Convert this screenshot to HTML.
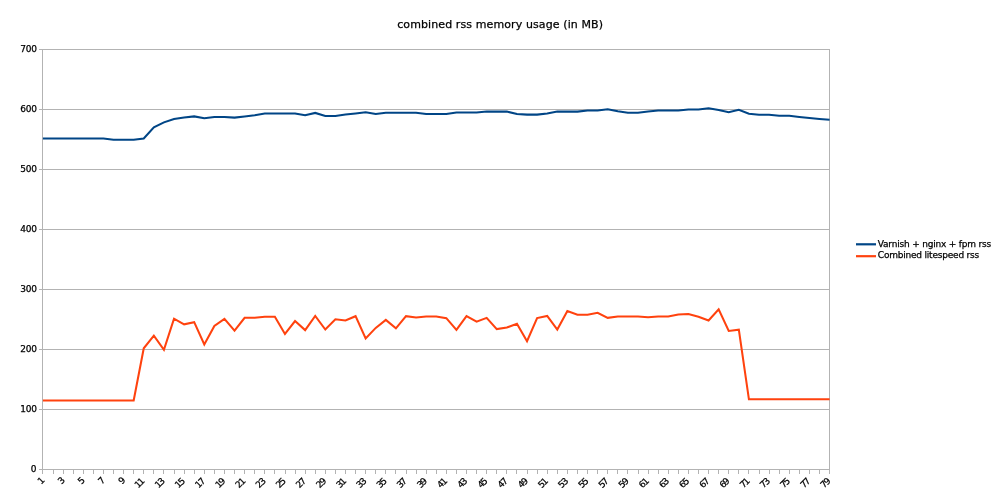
<!DOCTYPE html>
<html lang="en">
<head>
<meta charset="utf-8">
<title>combined rss memory usage (in MB)</title>
<style>
html,body{margin:0;padding:0;background:#fff;}
body{width:1000px;height:500px;overflow:hidden;}
svg{display:block;}
text{font-family:"DejaVu Sans","Liberation Sans",sans-serif;fill:#000;stroke:#000;stroke-width:0.25px;}
.ax{font-size:9px;}
.title{font-size:11px;}
.grid{stroke:#b3b3b3;stroke-width:1;fill:none;}
</style>
</head>
<body>
<svg width="1000" height="500" viewBox="0 0 1000 500">
<rect x="0" y="0" width="1000" height="500" fill="#ffffff"/>

<g class="grid">
<line x1="39.00" y1="469.50" x2="829.50" y2="469.50"/>
<line x1="39.00" y1="409.50" x2="829.50" y2="409.50"/>
<line x1="39.00" y1="349.50" x2="829.50" y2="349.50"/>
<line x1="39.00" y1="289.50" x2="829.50" y2="289.50"/>
<line x1="39.00" y1="229.50" x2="829.50" y2="229.50"/>
<line x1="39.00" y1="169.50" x2="829.50" y2="169.50"/>
<line x1="39.00" y1="109.50" x2="829.50" y2="109.50"/>
<line x1="39.00" y1="49.50" x2="829.50" y2="49.50"/>
<line x1="42.5" y1="49.00" x2="42.5" y2="470.00"/>
<line x1="829.5" y1="49.00" x2="829.5" y2="470.00"/>
<path d="M42.5 469.50V474M53.5 469.50V474M63.5 469.50V474M73.5 469.50V474M83.5 469.50V474M93.5 469.50V474M103.5 469.50V474M113.5 469.50V474M123.5 469.50V474M133.5 469.50V474M143.5 469.50V474M153.5 469.50V474M163.5 469.50V474M174.5 469.50V474M184.5 469.50V474M194.5 469.50V474M204.5 469.50V474M214.5 469.50V474M224.5 469.50V474M234.5 469.50V474M244.5 469.50V474M254.5 469.50V474M264.5 469.50V474M274.5 469.50V474M285.5 469.50V474M295.5 469.50V474M305.5 469.50V474M315.5 469.50V474M325.5 469.50V474M335.5 469.50V474M345.5 469.50V474M355.5 469.50V474M365.5 469.50V474M375.5 469.50V474M385.5 469.50V474M395.5 469.50V474M406.5 469.50V474M416.5 469.50V474M426.5 469.50V474M436.5 469.50V474M446.5 469.50V474M456.5 469.50V474M466.5 469.50V474M476.5 469.50V474M486.5 469.50V474M496.5 469.50V474M506.5 469.50V474M516.5 469.50V474M527.5 469.50V474M537.5 469.50V474M547.5 469.50V474M557.5 469.50V474M567.5 469.50V474M577.5 469.50V474M587.5 469.50V474M597.5 469.50V474M607.5 469.50V474M617.5 469.50V474M627.5 469.50V474M638.5 469.50V474M648.5 469.50V474M658.5 469.50V474M668.5 469.50V474M678.5 469.50V474M688.5 469.50V474M698.5 469.50V474M708.5 469.50V474M718.5 469.50V474M728.5 469.50V474M738.5 469.50V474M748.5 469.50V474M759.5 469.50V474M769.5 469.50V474M779.5 469.50V474M789.5 469.50V474M799.5 469.50V474M809.5 469.50V474M819.5 469.50V474M829.5 469.50V474"/>
</g>
<g class="ax" text-anchor="end">
<text x="36.5" y="471.80">0</text>
<text x="36.9" y="411.80" textLength="16.7" lengthAdjust="spacing">100</text>
<text x="36.9" y="351.80" textLength="16.7" lengthAdjust="spacing">200</text>
<text x="36.9" y="291.80" textLength="16.7" lengthAdjust="spacing">300</text>
<text x="36.9" y="231.80" textLength="16.7" lengthAdjust="spacing">400</text>
<text x="36.9" y="171.80" textLength="16.7" lengthAdjust="spacing">500</text>
<text x="36.9" y="111.80" textLength="16.7" lengthAdjust="spacing">600</text>
<text x="36.9" y="51.80" textLength="16.7" lengthAdjust="spacing">700</text>
</g>
<g class="ax" text-anchor="end">
<text transform="translate(43.14 478.50) rotate(-45)" x="0" y="3">1</text>
<text transform="translate(63.31 478.50) rotate(-45)" x="0" y="3">3</text>
<text transform="translate(83.48 478.50) rotate(-45)" x="0" y="3">5</text>
<text transform="translate(103.66 478.50) rotate(-45)" x="0" y="3">7</text>
<text transform="translate(123.83 478.50) rotate(-45)" x="0" y="3">9</text>
<text transform="translate(143.30 479.20) rotate(-45)" x="0" y="3" textLength="10.2" lengthAdjust="spacing">11</text>
<text transform="translate(163.47 479.20) rotate(-45)" x="0" y="3" textLength="10.2" lengthAdjust="spacing">13</text>
<text transform="translate(183.64 479.20) rotate(-45)" x="0" y="3" textLength="10.2" lengthAdjust="spacing">15</text>
<text transform="translate(203.82 479.20) rotate(-45)" x="0" y="3" textLength="10.2" lengthAdjust="spacing">17</text>
<text transform="translate(223.99 479.20) rotate(-45)" x="0" y="3" textLength="10.2" lengthAdjust="spacing">19</text>
<text transform="translate(244.16 479.20) rotate(-45)" x="0" y="3" textLength="10.2" lengthAdjust="spacing">21</text>
<text transform="translate(264.33 479.20) rotate(-45)" x="0" y="3" textLength="10.2" lengthAdjust="spacing">23</text>
<text transform="translate(284.50 479.20) rotate(-45)" x="0" y="3" textLength="10.2" lengthAdjust="spacing">25</text>
<text transform="translate(304.68 479.20) rotate(-45)" x="0" y="3" textLength="10.2" lengthAdjust="spacing">27</text>
<text transform="translate(324.85 479.20) rotate(-45)" x="0" y="3" textLength="10.2" lengthAdjust="spacing">29</text>
<text transform="translate(345.02 479.20) rotate(-45)" x="0" y="3" textLength="10.2" lengthAdjust="spacing">31</text>
<text transform="translate(365.19 479.20) rotate(-45)" x="0" y="3" textLength="10.2" lengthAdjust="spacing">33</text>
<text transform="translate(385.36 479.20) rotate(-45)" x="0" y="3" textLength="10.2" lengthAdjust="spacing">35</text>
<text transform="translate(405.54 479.20) rotate(-45)" x="0" y="3" textLength="10.2" lengthAdjust="spacing">37</text>
<text transform="translate(425.71 479.20) rotate(-45)" x="0" y="3" textLength="10.2" lengthAdjust="spacing">39</text>
<text transform="translate(445.88 479.20) rotate(-45)" x="0" y="3" textLength="10.2" lengthAdjust="spacing">41</text>
<text transform="translate(466.05 479.20) rotate(-45)" x="0" y="3" textLength="10.2" lengthAdjust="spacing">43</text>
<text transform="translate(486.22 479.20) rotate(-45)" x="0" y="3" textLength="10.2" lengthAdjust="spacing">45</text>
<text transform="translate(506.40 479.20) rotate(-45)" x="0" y="3" textLength="10.2" lengthAdjust="spacing">47</text>
<text transform="translate(526.57 479.20) rotate(-45)" x="0" y="3" textLength="10.2" lengthAdjust="spacing">49</text>
<text transform="translate(546.74 479.20) rotate(-45)" x="0" y="3" textLength="10.2" lengthAdjust="spacing">51</text>
<text transform="translate(566.91 479.20) rotate(-45)" x="0" y="3" textLength="10.2" lengthAdjust="spacing">53</text>
<text transform="translate(587.08 479.20) rotate(-45)" x="0" y="3" textLength="10.2" lengthAdjust="spacing">55</text>
<text transform="translate(607.26 479.20) rotate(-45)" x="0" y="3" textLength="10.2" lengthAdjust="spacing">57</text>
<text transform="translate(627.43 479.20) rotate(-45)" x="0" y="3" textLength="10.2" lengthAdjust="spacing">59</text>
<text transform="translate(647.60 479.20) rotate(-45)" x="0" y="3" textLength="10.2" lengthAdjust="spacing">61</text>
<text transform="translate(667.77 479.20) rotate(-45)" x="0" y="3" textLength="10.2" lengthAdjust="spacing">63</text>
<text transform="translate(687.94 479.20) rotate(-45)" x="0" y="3" textLength="10.2" lengthAdjust="spacing">65</text>
<text transform="translate(708.12 479.20) rotate(-45)" x="0" y="3" textLength="10.2" lengthAdjust="spacing">67</text>
<text transform="translate(728.29 479.20) rotate(-45)" x="0" y="3" textLength="10.2" lengthAdjust="spacing">69</text>
<text transform="translate(748.46 479.20) rotate(-45)" x="0" y="3" textLength="10.2" lengthAdjust="spacing">71</text>
<text transform="translate(768.63 479.20) rotate(-45)" x="0" y="3" textLength="10.2" lengthAdjust="spacing">73</text>
<text transform="translate(788.80 479.20) rotate(-45)" x="0" y="3" textLength="10.2" lengthAdjust="spacing">75</text>
<text transform="translate(808.98 479.20) rotate(-45)" x="0" y="3" textLength="10.2" lengthAdjust="spacing">77</text>
<text transform="translate(829.15 479.20) rotate(-45)" x="0" y="3" textLength="10.2" lengthAdjust="spacing">79</text>
</g>
<text class="title" x="397.2" y="28" textLength="205.8" lengthAdjust="spacing">combined rss memory usage (in MB)</text>
<polyline points="42.90,138.48 52.99,138.48 63.07,138.48 73.16,138.48 83.24,138.48 93.33,138.48 103.42,138.48 113.50,139.68 123.59,139.68 133.67,139.68 143.76,138.48 153.85,127.38 163.93,122.40 174.02,118.98 184.10,117.60 194.19,116.40 204.28,118.20 214.36,117.00 224.45,117.00 234.53,117.60 244.62,116.40 254.71,115.20 264.79,113.40 274.88,113.40 284.96,113.40 295.05,113.40 305.14,115.32 315.22,112.92 325.31,115.92 335.39,115.92 345.48,114.60 355.57,113.40 365.65,112.20 375.74,114.00 385.82,112.80 395.91,112.80 406.00,112.80 416.08,112.80 426.17,114.00 436.25,114.00 446.34,114.00 456.43,112.50 466.51,112.50 476.60,112.50 486.68,111.60 496.77,111.60 506.86,111.60 516.94,114.00 527.03,114.60 537.11,114.60 547.20,113.40 557.29,111.60 567.37,111.60 577.46,111.60 587.54,110.58 597.63,110.58 607.72,109.20 617.80,111.30 627.89,112.80 637.97,112.80 648.06,111.42 658.15,110.58 668.23,110.58 678.32,110.58 688.40,109.50 698.49,109.50 708.58,108.30 718.66,110.10 728.75,112.32 738.83,109.80 748.92,113.70 759.01,114.78 769.09,114.78 779.18,115.80 789.26,115.80 799.35,117.00 809.44,118.02 819.52,118.92 829.61,119.70" fill="none" stroke="#004586" stroke-width="2.05" stroke-linejoin="miter" stroke-miterlimit="10" stroke-linecap="butt"/>
<polyline points="42.90,400.50 52.99,400.50 63.07,400.50 73.16,400.50 83.24,400.50 93.33,400.50 103.42,400.50 113.50,400.50 123.59,400.50 133.67,400.50 143.76,348.30 153.85,335.70 163.93,349.80 174.02,318.72 184.10,324.30 194.19,322.20 204.28,344.52 214.36,325.92 224.45,318.90 234.53,330.60 244.62,317.82 254.71,317.82 264.79,316.68 274.88,316.68 284.96,333.90 295.05,321.00 305.14,330.12 315.22,315.90 325.31,329.52 335.39,319.32 345.48,320.40 355.57,316.20 365.65,338.40 375.74,327.90 385.82,319.92 395.91,328.32 406.00,316.20 416.08,317.40 426.17,316.50 436.25,316.50 446.34,318.12 456.43,329.88 466.51,316.20 476.60,321.72 486.68,317.88 496.77,329.10 506.86,327.48 516.94,323.70 527.03,341.28 537.11,318.12 547.20,315.90 557.29,329.52 567.37,311.10 577.46,314.70 587.54,314.70 597.63,312.72 607.72,317.88 617.80,316.50 627.89,316.50 637.97,316.50 648.06,317.28 658.15,316.50 668.23,316.50 678.32,314.52 688.40,313.92 698.49,316.68 708.58,320.52 718.66,309.30 728.75,330.90 738.83,329.70 748.92,399.30 759.01,399.30 769.09,399.30 779.18,399.30 789.26,399.30 799.35,399.30 809.44,399.30 819.52,399.30 829.61,399.30" fill="none" stroke="#ff420e" stroke-width="2.05" stroke-linejoin="miter" stroke-miterlimit="10" stroke-linecap="butt"/>
<line x1="856" y1="244.3" x2="876" y2="244.3" stroke="#004586" stroke-width="2.2"/>
<line x1="856" y1="256.2" x2="876" y2="256.2" stroke="#ff420e" stroke-width="2.2"/>
<text class="ax" x="877.8" y="246.6" textLength="113.4" lengthAdjust="spacing">Varnish + nginx + fpm rss</text>
<text class="ax" x="877.8" y="258.4" textLength="101.4" lengthAdjust="spacing">Combined litespeed rss</text>
</svg>
</body>
</html>
